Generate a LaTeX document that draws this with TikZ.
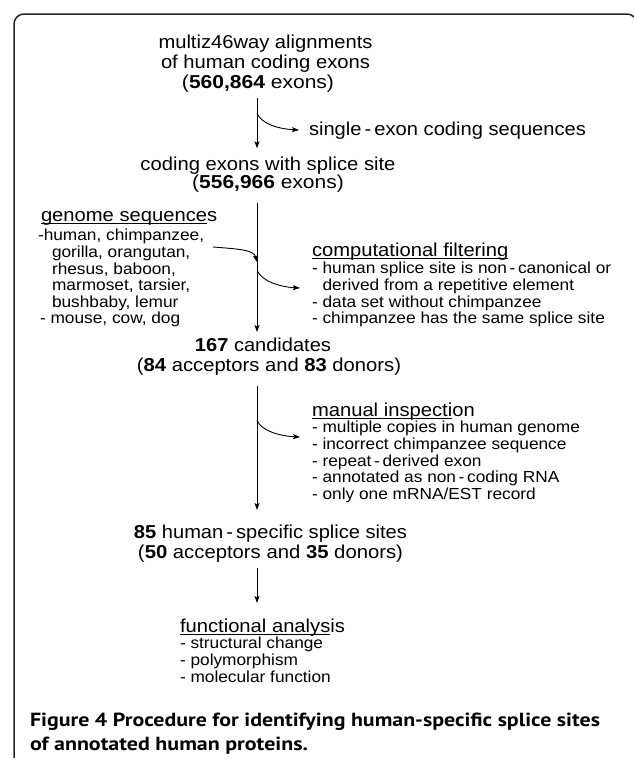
\documentclass[tikz,border=0pt]{standalone}
\usepackage{fontspec}
\usepackage{graphicx}
\setmainfont{Liberation Sans}[FakeStretch=1.08]
\newfontfamily\capfont{PT Sans}
\usetikzlibrary{arrows.meta}
\newcommand\bigsz[1]{\fontsize{18.7}{#1}\selectfont\lineskiplimit=-30pt\relax}
\newcommand\smallsz{\fontsize{16}{16.6}\selectfont\lineskiplimit=-30pt\relax}
\newcommand\fs{\rule{0pt}{13.6pt}}
\newcommand\ulx[1]{\leavevmode\setbox0\hbox{#1}\rlap{\rule[-2.6pt]{\wd0}{0.9pt}}\box0}
\newcommand\hy{\,-\,}
\newcommand\hd[1]{{\bigsz{20}\fs#1}}
\newcommand\lw[2]{\resizebox{#1}{\height}{#2}}
\tikzset{
  txt/.style={inner sep=0pt, outer sep=0pt},
  flow/.style={-{Stealth[length=7pt,width=5pt,inset=1.5pt]}, line width=0.9pt},
  frame/.style={line width=1.5pt, rounded corners=10pt, black!85},
}
\begin{document}
\begin{tikzpicture}[x=1pt,y=-1pt]
\useasboundingbox (0,0) rectangle (633,761);
\draw[frame] (14,758) -- (14,14) -- (637,14) -- (637,800);

\coordinate (spine) at (257,0);

% main flow
\node[txt, font={\bigsz{20}}, align=center, anchor=north] (src) at (265.5,34.7)
  {\fs\lw{214pt}{multiz46way alignments}\\
   \lw{209pt}{of human coding exons}\\
   \lw{152pt}{(\textbf{560,864} exons)}\hspace*{15pt}};
\node[txt, font={\bigsz{18}}, align=center, anchor=north] (cds) at (268,156.9)
  {\fs\lw{255pt}{coding exons with splice site}\\
   \lw{151.6pt}{(\textbf{556,966} exons)}};
\node[txt, font={\bigsz{20}}, align=center, anchor=north] (cand) at (266,338.1)
  {\fs\lw{136pt}{\textbf{167} candidates}\hspace*{6pt}\\
   \hspace*{6pt}\lw{264pt}{(\textbf{84} acceptors and \textbf{83} donors)}};
\node[txt, font={\bigsz{20}}, align=center, anchor=north] (hss) at (270.5,525.1)
  {\fs\lw{273pt}{\textbf{85} human\hy specific splice sites}\\
   \lw{265pt}{(\textbf{50} acceptors and \textbf{35} donors)}};

% side texts
\node[txt, font={\bigsz{20}}, anchor=base west] (excl) at (309,135)
  {\lw{277pt}{single\hy exon coding sequences}};

\node[txt, font=\smallsz, align=left, anchor=north west] (genome) at (38,208.1)
  {\hd{\hspace*{3pt}\ulx{genome sequence}s}\\[2.5pt]
   -human, chimpanzee,\\
   \hspace*{14pt}gorilla, orangutan,\\
   \hspace*{14pt}rhesus, baboon,\\
   \hspace*{14pt}marmoset, tarsier,\\
   \hspace*{14pt}bushbaby, lemur\\
   \hspace*{2pt}- mouse, cow, dog};

\node[txt, font=\smallsz, align=left, anchor=north west] (comp) at (312,243.1)
  {\hd{\ulx{computational filtering}}\\[0.5pt]
   - human splice site is non\hy canonical or\\
   \phantom{- }derived from a repetitive element\\
   - data set without chimpanzee\\
   - chimpanzee has the same splice site};

\node[txt, font=\smallsz, align=left, anchor=north west] (manual) at (312,403.1)
  {\hd{\ulx{manual inspecti}on}\\[-0.5pt]
   - multiple copies in human genome\\
   - incorrect chimpanzee sequence\\
   - repeat\hy derived exon\\
   - annotated as non\hy coding RNA\\
   - only one mRNA/EST record};

\node[txt, font=\smallsz, align=left, anchor=north west] (func) at (180,619.1)
  {\hd{\ulx{functional analys}is}\\[-0.5pt]
   - structural change\\
   - polymorphism\\
   - molecular function};

% caption
\node[txt, anchor=base west, font={\capfont\bfseries\fontsize{19}{23}\selectfont}] (cap1) at (30,726.7)
  {\resizebox{570pt}{\height}{Figure 4 Procedure for identifying human-specific splice sites}};
\node[txt, anchor=base west, font={\capfont\bfseries\fontsize{19}{23}\selectfont}] (cap2) at (30,750)
  {\resizebox{278pt}{\height}{of annotated human proteins.}};

% main arrows
\draw[flow, shorten <=6.1pt, shorten >=8.6pt] (src.south -| spine) -- (cds.north -| spine);
\draw[flow, shorten <=10.6pt, shorten >=6.1pt] (cds.south -| spine) -- (cand.north -| spine);
\draw[flow, shorten <=10.4pt, shorten >=15.1pt] (cand.south -| spine) -- (hss.north -| spine);
\draw[flow, shorten <=5.4pt, shorten >=16.1pt] (hss.south -| spine) -- (func.north -| spine);

% branch arrows
\coordinate (b1s) at (257,113);
\coordinate (b1e) at (299,130);
\coordinate (b2s) at (257,270);
\coordinate (b2e) at (300,288);
\coordinate (b3s) at (257,420);
\coordinate (b3e) at (300,437);
\coordinate (g1) at (213,247);
\coordinate (g2) at (257,262);
\draw[flow] (b1s) .. controls +(4,11) and +(-20,-1) .. (b1e);
\draw[flow] (b2s) .. controls +(4,11) and +(-20,-1) .. (b2e);
\draw[flow] (b3s) .. controls +(4,11) and +(-20,-1) .. (b3e);
\draw[flow] (g1) .. controls +(26,2) and +(-3,-12) .. (g2);
\end{tikzpicture}
\end{document}
